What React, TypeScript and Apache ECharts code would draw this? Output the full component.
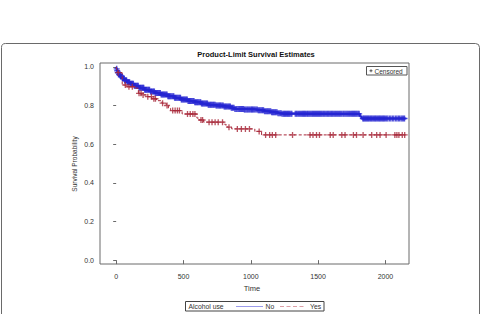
import React, { useEffect, useRef } from "react";
import * as echarts from "echarts";

// Kaplan-Meier step points: time (days) and survival probability after that time
const noTimes = [0, 2, 6, 12, 20, 32, 45, 60, 80, 105, 135, 170, 210, 250, 290, 330, 380, 430, 480, 530, 580, 630, 680, 740, 800, 850, 880, 950, 1050, 1100, 1150, 1200, 1230, 1810, 1822];
const noSurv = [1.0, 0.99, 0.98, 0.97, 0.96, 0.95, 0.94, 0.93, 0.92, 0.912, 0.902, 0.892, 0.882, 0.873, 0.865, 0.857, 0.848, 0.84, 0.831, 0.824, 0.817, 0.81, 0.804, 0.8, 0.795, 0.788, 0.782, 0.78, 0.776, 0.77, 0.765, 0.76, 0.757, 0.745, 0.733];
const noCensored = [4, 8, 12, 15, 19, 22, 26, 30, 34, 38, 43, 48, 53, 58, 63, 68, 73, 78, 84, 90, 95, 100, 106, 112, 117, 122, 128, 135, 140, 145, 152, 158, 164, 170, 176, 182, 188, 195, 200, 205, 212, 218, 224, 230, 236, 242, 248, 255, 260, 265, 272, 278, 284, 290, 296, 302, 308, 315, 322, 328, 334, 340, 346, 352, 358, 365, 372, 378, 384, 390, 396, 402, 408, 415, 422, 428, 434, 440, 446, 452, 458, 465, 472, 478, 484, 490, 496, 502, 508, 515, 522, 528, 534, 540, 546, 552, 558, 565, 572, 578, 584, 590, 597, 603, 609, 615, 622, 628, 634, 640, 646, 652, 658, 665, 672, 678, 684, 690, 696, 702, 708, 715, 722, 728, 735, 742, 748, 755, 762, 768, 774, 780, 788, 795, 802, 808, 814, 820, 828, 835, 842, 848, 855, 862, 868, 875, 882, 890, 897, 905, 912, 918, 925, 932, 938, 945, 952, 958, 965, 972, 978, 985, 992, 1000, 1006, 1012, 1018, 1025, 1032, 1040, 1048, 1055, 1062, 1068, 1075, 1082, 1088, 1095, 1102, 1110, 1118, 1125, 1132, 1140, 1148, 1155, 1162, 1168, 1175, 1182, 1188, 1195, 1202, 1210, 1218, 1225, 1232, 1240, 1246, 1252, 1258, 1265, 1272, 1278, 1284, 1290, 1298, 1305, 1330, 1338, 1345, 1354, 1362, 1370, 1378, 1385, 1392, 1398, 1405, 1412, 1420, 1426, 1433, 1440, 1447, 1454, 1460, 1467, 1474, 1481, 1488, 1495, 1502, 1509, 1516, 1523, 1530, 1538, 1545, 1552, 1560, 1568, 1575, 1582, 1590, 1598, 1605, 1612, 1620, 1628, 1636, 1644, 1652, 1660, 1668, 1676, 1685, 1692, 1700, 1708, 1716, 1724, 1732, 1740, 1748, 1755, 1762, 1769, 1776, 1783, 1790, 1798, 1805, 1832, 1838, 1845, 1852, 1859, 1866, 1873, 1880, 1888, 1895, 1902, 1910, 1918, 1925, 1932, 1940, 1948, 1955, 1962, 1970, 1978, 1985, 1992, 2000, 2009, 2018, 2030, 2040, 2052, 2062, 2075, 2085, 2096, 2105, 2116, 2125, 2134, 2142];

const yesTimes = [0, 5, 12, 45, 80, 140, 165, 190, 225, 265, 300, 340, 372, 388, 405, 490, 600, 615, 650, 808, 825, 858, 1030, 1080];
const yesSurv = [1.0, 0.985, 0.97, 0.906, 0.897, 0.89, 0.863, 0.855, 0.846, 0.835, 0.825, 0.812, 0.8, 0.785, 0.774, 0.756, 0.735, 0.725, 0.714, 0.7, 0.688, 0.679, 0.666, 0.648];
const yesCensored = [15, 68, 95, 120, 170, 185, 200, 235, 262, 280, 292, 345, 378, 420, 438, 455, 470, 530, 550, 570, 585, 630, 642, 690, 712, 735, 758, 790, 838, 900, 930, 960, 990, 1062, 1110, 1140, 1160, 1185, 1310, 1440, 1462, 1488, 1510, 1590, 1612, 1676, 1700, 1762, 1785, 1834, 1898, 1935, 1960, 2005, 2070, 2085, 2100, 2125, 2143];

const endTime = 2150;
const xTicks = [0, 500, 1000, 1500, 2000];
const yTicks = [0, 0.2, 0.4, 0.6, 0.8, 1.0];

const BLUE = "#2626d2";
const RED = "#a8283a";
const FONT = "Liberation Sans, Arial, sans-serif";

const CROSS = "path://M-0.22,-1H0.22V-0.22H1V0.22H0.22V1H-0.22V0.22H-1V-0.22H-0.22Z";

function stepData(times: number[], surv: number[]) {
  const pts = times.map((t, i) => [t, surv[i]]);
  pts.push([endTime, surv[surv.length - 1]]);
  return pts;
}

// survival value in effect at time t (last step at or before t)
function survivalAt(times: number[], surv: number[], t: number) {
  let v = surv[0];
  for (let i = 0; i < times.length; i++) {
    if (times[i] <= t) v = surv[i];
  }
  return v;
}

function censorData(times: number[], surv: number[], cens: number[]) {
  return cens.map((t) => [t, survivalAt(times, surv, t)]);
}

export default function App() {
  const ref = useRef<HTMLDivElement>(null);

  useEffect(() => {
    if (!ref.current) return;
    const chart = echarts.init(ref.current, null, { renderer: "svg" });
    const txt = "#333";
    chart.setOption({
      animation: false,
      backgroundColor: "#ffffff",
      grid: {
        left: 100,
        right: 74,
        top: 63,
        bottom: 50,
        show: true,
        borderColor: "#6a6a6a",
        borderWidth: 1,
        backgroundColor: "transparent",
      },
      xAxis: {
        type: "value",
        min: -120,
        max: 2175,
        axisLine: { show: false },
        splitLine: { show: false },
        axisTick: {
          show: true,
          length: 4,
          lineStyle: { color: "#6a6a6a" },
          customValues: xTicks,
        },
        axisLabel: {
          color: txt,
          fontFamily: FONT,
          fontSize: 7,
          margin: 9,
          customValues: xTicks,
          formatter: (v: number) => String(v),
        },
      },
      yAxis: {
        type: "value",
        min: -0.02,
        max: 1.02,
        axisLine: { show: false },
        splitLine: { show: false },
        axisTick: {
          show: true,
          length: 3,
          lineStyle: { color: "#6a6a6a" },
          customValues: yTicks,
        },
        axisLabel: {
          color: txt,
          fontFamily: FONT,
          fontSize: 7,
          margin: 6,
          customValues: yTicks,
          formatter: (v: number) => v.toFixed(1),
        },
      },
      series: [
        {
          name: "No",
          type: "line",
          step: "end",
          data: stepData(noTimes, noSurv),
          showSymbol: false,
          lineStyle: { color: BLUE, width: 2 },
          z: 3,
        },
        {
          name: "No censored",
          type: "scatter",
          data: censorData(noTimes, noSurv, noCensored),
          symbol: CROSS,
          symbolSize: 6,
          itemStyle: { color: BLUE },
          z: 3,
        },
        {
          name: "Yes",
          type: "line",
          step: "end",
          data: stepData(yesTimes, yesSurv),
          showSymbol: false,
          lineStyle: { color: RED, width: 1, type: [3, 2] },
          z: 4,
        },
        {
          name: "Yes censored",
          type: "scatter",
          data: censorData(yesTimes, yesSurv, yesCensored),
          symbol: CROSS,
          symbolSize: 6,
          itemStyle: { color: RED },
          z: 4,
        },
      ],
      graphic: [
        {
          type: "rect",
          shape: { x: 1.5, y: 43.5, width: 478, height: 300, r: 4 },
          style: { fill: "none", stroke: "#6a6a6a", lineWidth: 1 },
          silent: true,
        },
        {
          type: "text",
          x: 256,
          y: 54.5,
          style: {
            text: "Product-Limit Survival Estimates",
            font: `bold 7.5px ${FONT}`,
            fill: "#111",
            align: "center",
            verticalAlign: "middle",
          },
        },
        {
          type: "text",
          x: 252,
          y: 288.5,
          style: {
            text: "Time",
            font: `7.5px ${FONT}`,
            fill: txt,
            align: "center",
            verticalAlign: "middle",
          },
        },
        {
          type: "text",
          x: 74,
          y: 164,
          rotation: Math.PI / 2,
          style: {
            text: "Survival Probability",
            font: `6.5px ${FONT}`,
            fill: txt,
            align: "center",
            verticalAlign: "middle",
          },
        },
        // censored marker key
        {
          type: "rect",
          shape: { x: 366.5, y: 66.5, width: 40.5, height: 8.5 },
          style: { fill: "#fff", stroke: "#555", lineWidth: 1 },
        },
        {
          type: "line",
          shape: { x1: 369.5, y1: 70.75, x2: 372.5, y2: 70.75 },
          style: { stroke: "#333", lineWidth: 0.8 },
        },
        {
          type: "line",
          shape: { x1: 371, y1: 69.25, x2: 371, y2: 72.25 },
          style: { stroke: "#333", lineWidth: 0.8 },
        },
        {
          type: "text",
          x: 374.5,
          y: 71,
          style: {
            text: "Censored",
            font: `6.5px ${FONT}`,
            fill: txt,
            align: "left",
            verticalAlign: "middle",
          },
        },
        // group legend
        {
          type: "rect",
          shape: { x: 185.5, y: 301.5, width: 138.5, height: 9.5 },
          style: { fill: "#fff", stroke: "#444", lineWidth: 1 },
        },
        {
          type: "text",
          x: 188.5,
          y: 306.3,
          style: {
            text: "Alcohol use",
            font: `6.8px ${FONT}`,
            fill: txt,
            align: "left",
            verticalAlign: "middle",
          },
        },
        {
          type: "line",
          shape: { x1: 236, y1: 306.5, x2: 263, y2: 306.5 },
          style: { stroke: "#9b9bea", lineWidth: 1 },
        },
        {
          type: "text",
          x: 265.5,
          y: 306.3,
          style: {
            text: "No",
            font: `6.8px ${FONT}`,
            fill: txt,
            align: "left",
            verticalAlign: "middle",
          },
        },
        {
          type: "line",
          shape: { x1: 280, y1: 306.5, x2: 306, y2: 306.5 },
          style: { stroke: "#dca0a8", lineWidth: 1, lineDash: [4, 2.5] },
        },
        {
          type: "text",
          x: 310,
          y: 306.3,
          style: {
            text: "Yes",
            font: `6.8px ${FONT}`,
            fill: txt,
            align: "left",
            verticalAlign: "middle",
          },
        },
      ],
    });
    return () => chart.dispose();
  }, []);

  return (
    <div
      ref={ref}
      style={{ position: "fixed", left: 0, top: 0, width: 483, height: 314 }}
    />
  );
}
